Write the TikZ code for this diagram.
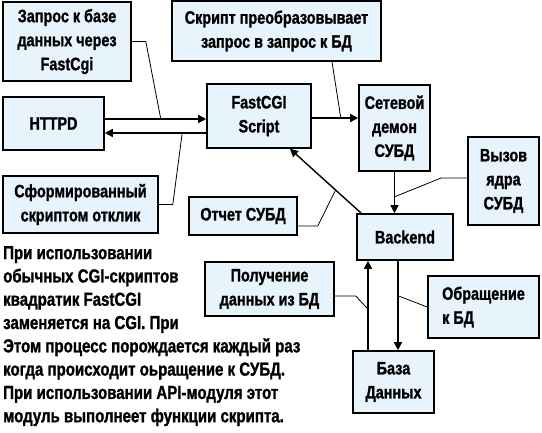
\documentclass[tikz,border=0pt]{standalone}
\usepackage{fontspec}
\setmainfont{Liberation Sans}[FakeStretch=0.8, BoldFont={Liberation Sans Bold}, BoldFeatures={FakeStretch=0.8, FakeBold=1.2}]
\usetikzlibrary{arrows.meta}
\definecolor{boxfill}{RGB}{232,244,252}
\tikzset{
  box/.style={draw=black, line width=1.6pt, fill=boxfill, rectangle, inner sep=2pt, align=center,
    font=\fontsize{18}{24}\selectfont\bfseries},
  arr/.style={line width=1.4pt, -{Triangle[length=8pt,width=8pt]}},
  callout/.style={line width=0.8pt}
}
\begin{document}
\begin{tikzpicture}[x=1pt,y=-1pt]
\useasboundingbox (0,0) rectangle (542,433);
% boxes
\node[box, minimum width=128pt, minimum height=79pt] (q1) at (67,41.5) {Запрос к базе\\данных через\\FastCgi};
\node[box, minimum width=101pt, minimum height=53pt] (httpd) at (53.5,123.5) {HTTPD};
\node[box, minimum width=155pt, minimum height=57pt] (resp) at (80.5,204.5) {Сформированный\\скриптом отклик};
\node[box, minimum width=104pt, minimum height=64pt] (fcgi) at (259,116) {FastCGI\\Script};
\node[box, minimum width=209pt, minimum height=60pt] (conv) at (276.5,31) {Скрипт преобразовывает\\запрос в запрос к БД};
\node[box, minimum width=71pt, minimum height=86pt] (net) at (394.5,128) {Сетевой\\демон\\СУБД};
\node[box, minimum width=71pt, minimum height=88pt] (core) at (503.5,181) {Вызов\\ядра\\СУБД};
\node[box, minimum width=108pt, minimum height=38pt] (rep) at (243,216) {Отчет СУБД};
\node[box, minimum width=96pt, minimum height=46pt] (back) at (405,237) {Backend};
\node[box, minimum width=129pt, minimum height=54pt] (get) at (269.5,289) {Получение\\данных из БД};
\node[box, minimum width=111pt, minimum height=62pt, align=left] (acc) at (483.5,307) {Обращение\\к БД};
\node[box, minimum width=81pt, minimum height=62pt] (db) at (393.5,382) {База\\Данных};
% arrows
\coordinate (a1) at ([yshift=4.5pt]httpd.east);
\draw[arr] (a1) -- (a1 -| fcgi.west);
\coordinate (a2) at ([yshift=-17pt]fcgi.west);
\draw[arr] (a2) -- (a2 -| httpd.east);
\coordinate (a3) at ([yshift=-2pt]fcgi.east);
\draw[arr] (a3) -- (a3 -| net.west);
\draw[arr] (net.south) -- (net.south |- back.north);
\coordinate (b1) at ([xshift=5pt]back.north west);
\coordinate (f1) at ([xshift=31pt]fcgi.south);
\draw[arr] (b1) -- (f1);
\path (b1) -- (f1) coordinate[pos=0.36] (m1);
\coordinate (a5) at ([xshift=-7pt]back.south);
\draw[arr] (a5) -- (a5 |- db.north);
\coordinate (a6) at ([xshift=-25.5pt]db.north);
\draw[arr] (a6) -- (a6 |- back.south);
% callouts
\draw[callout] (q1.east) -- ++(14,0) -- ([xshift=56pt]a1);
\draw[callout] (resp.east) -- ++(14,0) -- ([xshift=-24pt]a2);
\draw[callout] ([xshift=55.5pt]conv.south) -- ([xshift=29pt]a3);
\draw[callout] ([yshift=3pt]core.west) -- ++(-26,0) -- ([yshift=-25pt]net.south);
\draw[callout] ([yshift=-10pt]rep.east) -- ++(20,0) -- (m1);
\draw[callout] (acc.west) -- ([yshift=-35pt]a5);
\draw[callout] ([yshift=-7pt]get.east) -- ++(21,0) -- ([yshift=41pt]a6);
% paragraph
\node[anchor=north west, align=left, inner sep=0pt, font=\fontsize{18.8}{23.3}\selectfont\bfseries] (para) at (3,246)
{При использовании\\обычных CGI-скриптов\\квадратик FastCGI\\заменяется на CGI. При\\Этом процесс порождается каждый раз\\когда происходит оьращение к СУБД.\\При использовании API-модуля этот\\модуль выполнеет функции скрипта.};
\end{tikzpicture}
\end{document}
